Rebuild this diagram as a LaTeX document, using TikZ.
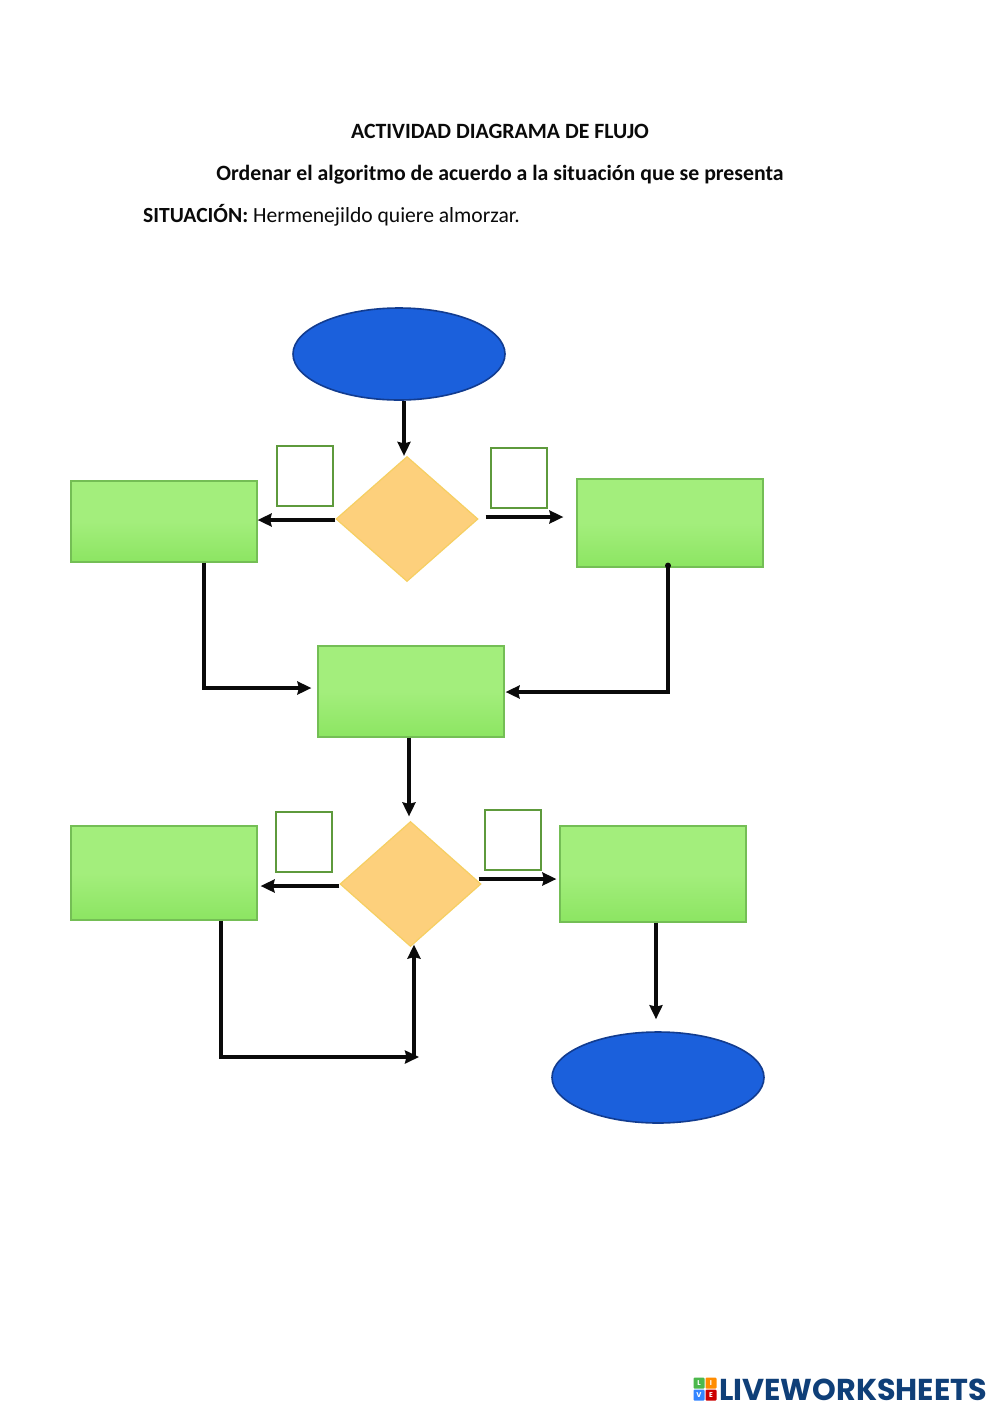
\documentclass[tikz,border=0pt]{standalone}
\usepackage{fontspec}
\setmainfont{Carlito}
\newfontfamily\logofont{Poppins}
\usetikzlibrary{shapes.geometric,arrows.meta}
\definecolor{ink}{HTML}{0A0A0A}
\definecolor{navy}{HTML}{0F3F78}
\tikzset{
  x=1pt,y=-1pt,
  procbox/.style={draw=boxedge,line width=1.2pt,top color=boxtop,bottom color=boxbot,middle color=boxtop,minimum width=186pt,inner sep=0pt,rectangle},
  choice/.style={diamond,aspect=1.13,draw=diaedge,line width=1.2pt,fill=diafill,inner sep=0pt},
  terminal/.style={ellipse,draw=termedge,line width=1.6pt,fill=termfill,minimum width=212pt,minimum height=92pt,inner sep=0pt},
  tick/.style={rectangle,draw=tickedge,line width=2pt,fill=white,minimum width=56pt,minimum height=60pt,inner sep=0pt},
  conn/.style={draw=ink,line width=3.3pt,-{Stealth[length=14pt,width=13pt,inset=1.5pt]}},
  thick conn/.style={conn,line width=4.4pt},
  head/.style={font=\fontsize{21.8}{26}\selectfont\bfseries,text=ink,inner sep=0pt},
  logotile/.style={rectangle,rounded corners=1pt,minimum size=11pt,inner sep=0pt,text=white,font=\logofont\fontsize{7}{7}\selectfont\bfseries},
}
\definecolor{boxtop}{HTML}{A3EE7C}
\definecolor{boxbot}{HTML}{8CE562}
\definecolor{boxedge}{HTML}{74BE55}
\definecolor{diafill}{HTML}{FDD07C}
\definecolor{diaedge}{HTML}{F6CF62}
\definecolor{termfill}{HTML}{1B60DC}
\definecolor{termedge}{HTML}{123C90}
\definecolor{tickedge}{HTML}{5E9A3C}
\begin{document}
\begin{tikzpicture}
\useasboundingbox (0,0) rectangle (1000,1414);
\fill[white] (0,0) rectangle (1000,1414);
\node[head] (t1) at (500,131) {ACTIVIDAD DIAGRAMA DE FLUJO};
\node[head] (t2) at (500,175) {Ordenar el algoritmo de acuerdo a la situación que se presenta};
\node[font=\fontsize{21.6}{26}\selectfont,text=ink,inner sep=0pt,anchor=base west] (t3) at (143,222) {\textbf{SITUACIÓN:} Hermenejildo quiere almorzar.};

\node[terminal] (start) at (399,354) {};
\node[choice,minimum width=142pt,minimum height=125pt] (d1) at (407,519) {};
\node[procbox,minimum height=81pt] (l1) at (164,521.5) {};
\node[procbox,minimum height=88pt] (r1) at (670,523) {};
\node[procbox,minimum height=91pt] (m) at (411,691.5) {};
\node[choice,minimum width=141pt,minimum height=125pt] (d2) at (410.5,884) {};
\node[procbox,minimum height=94pt] (l2) at (164,873) {};
\node[procbox,minimum height=96pt] (r2) at (653,874) {};
\node[terminal,minimum height=91pt] (end) at (658,1077.5) {};

\node[tick] (q1) at (305,476) {};
\node[tick] (q2) at (519,478) {};
\node[tick] (q3) at (304,842) {};
\node[tick] (q4) at (513,840) {};

\draw[conn] ([xshift=5pt]start.south) -- ([xshift=-3pt]d1.north);
\draw[thick conn] ([yshift=-1pt]d1.west) -- ([yshift=1.5pt]l1.east);
\draw[thick conn] ([xshift=7pt,yshift=2pt]d1.east) -- ([xshift=-13pt,yshift=6pt]r1.west);
\draw[conn] ([xshift=40pt]l1.south) |- ([xshift=-6pt,yshift=3.5pt]m.west);
\draw[conn] ([xshift=-2pt,yshift=2pt]r1.south) |- ([xshift=1pt,yshift=-0.5pt]m.east);
\fill[ink] ([xshift=-2pt,yshift=2pt]r1.south) circle (3pt);
\draw[conn] ([xshift=-2pt]m.south) -- ([xshift=-1.5pt,yshift=4.5pt]d2.north);
\draw[thick conn] ([yshift=-2pt]d2.west) -- ([xshift=3pt,yshift=-13pt]l2.east);
\draw[thick conn] ([xshift=-3pt,yshift=5pt]d2.east) -- ([xshift=-3pt,yshift=-5pt]r2.west);
\coordinate (c1) at (419,1057);
\draw[conn] ([xshift=57pt]l2.south) |- (c1);
\draw[conn] ([xshift=-5pt]c1) -- ([xshift=3.5pt,yshift=2.5pt]d2.south);
\draw[conn] ([xshift=3pt]r2.south) -- ([xshift=-2pt,yshift=12pt]end.north);

\node[logotile,fill=green!60!black!70] (a) at (699,1383) {L};
\node[logotile,fill=orange!90!yellow] (b) at (711,1383) {I};
\node[logotile,fill=blue!60!cyan!80] (c) at (699,1395) {V};
\node[logotile,fill=red!80!black] (d) at (711,1395) {E};
\node[anchor=west,inner sep=0pt,text=navy,font=\logofont\fontsize{30.2}{32}\selectfont\bfseries] (w) at (719,1389.5) {LIVEWORKSHEETS};
\end{tikzpicture}
\end{document}
